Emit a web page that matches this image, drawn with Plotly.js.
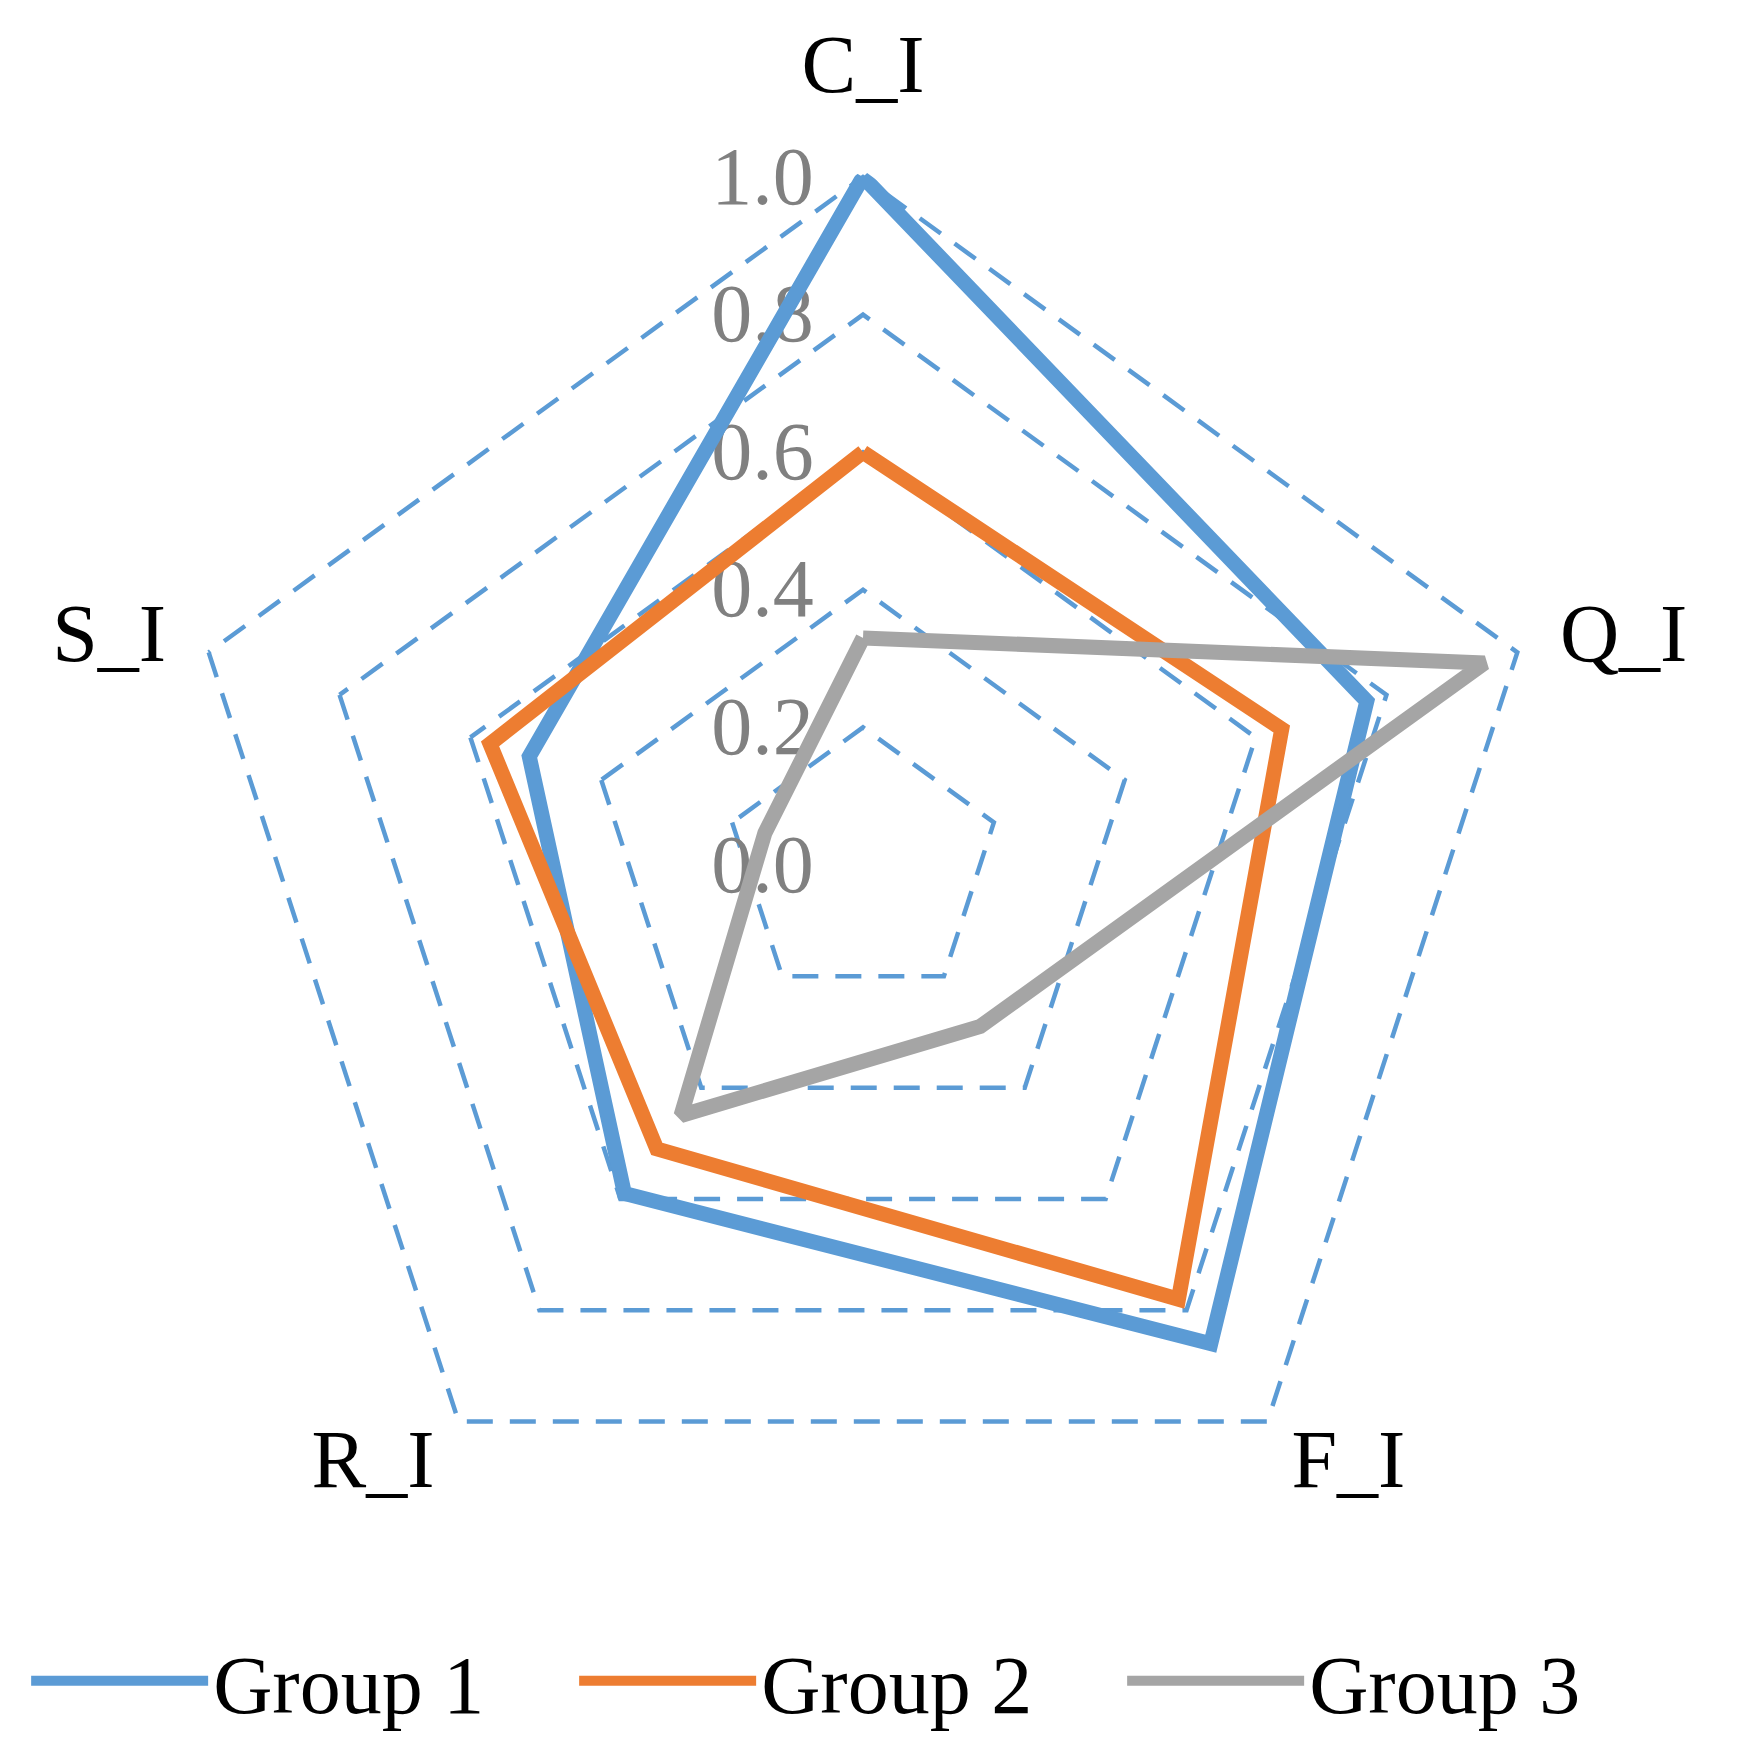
<!DOCTYPE html>
<html>
<head>
<meta charset="utf-8">
<script src="https://cdn.plot.ly/plotly-3.0.1.min.js"></script>
<style>
  html, body { margin: 0; padding: 0; background: #ffffff; }
  #chart { width: 1738px; height: 1757px; }
</style>
</head>
<body>
<div id="chart"></div>
<script>
// Data
const categories = ["C_I", "Q_I", "F_I", "R_I", "S_I"];
const seriesNames = ["Group 1", "Group 2", "Group 3"];
const group1 = [1.00, 0.77, 0.86, 0.59, 0.51];
const group2 = [0.60, 0.64, 0.78, 0.51, 0.57];
const group3 = [0.33, 0.95, 0.29, 0.45, 0.15];
const radialTicks = [0.0, 0.2, 0.4, 0.6, 0.8, 1.0];

const colors = ["#5B9BD5", "#ED7D31", "#A5A5A5"];
const allSeries = [group1, group2, group3];

function closed(arr) { return arr.concat([arr[0]]); }

const traces = allSeries.map((vals, i) => ({
  type: "scatterpolar",
  subplot: "polar",
  mode: "lines",
  name: seriesNames[i],
  r: closed(vals),
  theta: closed(categories),
  line: { color: colors[i], width: 15, shape: "linear" },
  hoverinfo: "skip"
}));

// helper subplots that only carry category labels (nothing drawn)
["polar2", "polar3", "polar4"].forEach(sp => {
  traces.push({
    type: "scatterpolar",
    subplot: sp,
    mode: "none",
    r: group1,
    theta: categories,
    showlegend: false,
    hoverinfo: "skip"
  });
});

const W = 1738, H = 1757;
const cx = 863, cy = 865;
const rMax = 1.01;
const R = 688 * rMax;

function dom(x0, y0, r) {
  return {
    x: [(x0 - r) / W, (x0 + r) / W],
    y: [(H - y0 - r) / H, (H - y0 + r) / H]
  };
}

// show only the chosen category names on a given angular axis
function onlyLabels(idx) {
  return categories.map((c, i) => (idx.indexOf(i) >= 0 ? c : ""));
}

const labelFont = { family: "Liberation Serif, Times New Roman, serif", size: 82, color: "#000000" };

function labelPolar(domain, idx, len) {
  return {
    domain: domain,
    bgcolor: "rgba(0,0,0,0)",
    gridshape: "linear",
    radialaxis: { visible: false, range: [0, rMax] },
    angularaxis: {
      type: "category",
      categoryorder: "array",
      categoryarray: categories,
      direction: "clockwise",
      rotation: 90,
      showline: false,
      showgrid: false,
      ticks: "outside",
      ticklen: len,
      tickcolor: "rgba(0,0,0,0)",
      tickmode: "array",
      tickvals: categories,
      ticktext: onlyLabels(idx),
      tickfont: labelFont
    }
  };
}

const layout = {
  width: W,
  height: H,
  paper_bgcolor: "#ffffff",
  margin: { l: 0, r: 0, t: 0, b: 0 },
  font: { family: "Liberation Serif, Times New Roman, serif", color: "#000000", size: 82 },
  showlegend: true,
  legend: {
    orientation: "h",
    x: 0.488,
    xanchor: "center",
    y: (H - 1681) / H,
    yanchor: "middle",
    font: labelFont,
    itemwidth: 177,
    entrywidth: 356,
    entrywidthmode: "pixels",
    bgcolor: "rgba(0,0,0,0)"
  },
  polar: {
    domain: dom(cx, cy, R),
    bgcolor: "#ffffff",
    gridshape: "linear",
    angularaxis: {
      type: "category",
      categoryorder: "array",
      categoryarray: categories,
      direction: "clockwise",
      rotation: 90,
      showline: false,
      showgrid: false,
      layer: "below traces",
      ticks: "outside",
      ticklen: 45,
      tickcolor: "rgba(0,0,0,0)",
      tickmode: "array",
      tickvals: categories,
      ticktext: onlyLabels([0]),
      tickfont: labelFont
    },
    radialaxis: {
      range: [0, rMax],
      tickmode: "array",
      tickvals: radialTicks,
      ticktext: radialTicks.map(v => v.toFixed(1)),
      angle: 90,
      side: "counterclockwise",
      tickangle: 90,
      ticklabelshift: 8,
      showline: false,
      ticks: "outside",
      ticklen: 20,
      tickcolor: "rgba(0,0,0,0)",
      showgrid: true,
      layer: "below traces",
      gridcolor: "#5B9BD5",
      gridwidth: 4.5,
      griddash: "26px,17px",
      tickfont: { family: "Liberation Serif, Times New Roman, serif", size: 82, color: "#808080" }
    }
  },
  polar2: labelPolar(dom(cx, cy, R), [1, 4], 21),
  polar3: labelPolar(dom(cx + 37, cy, 648), [2], 1),
  polar4: labelPolar(dom(cx - 37, cy, 648), [3], 1)
};

Plotly.newPlot("chart", traces, layout, { displayModeBar: false, staticPlot: true });
</script>
</body>
</html>
